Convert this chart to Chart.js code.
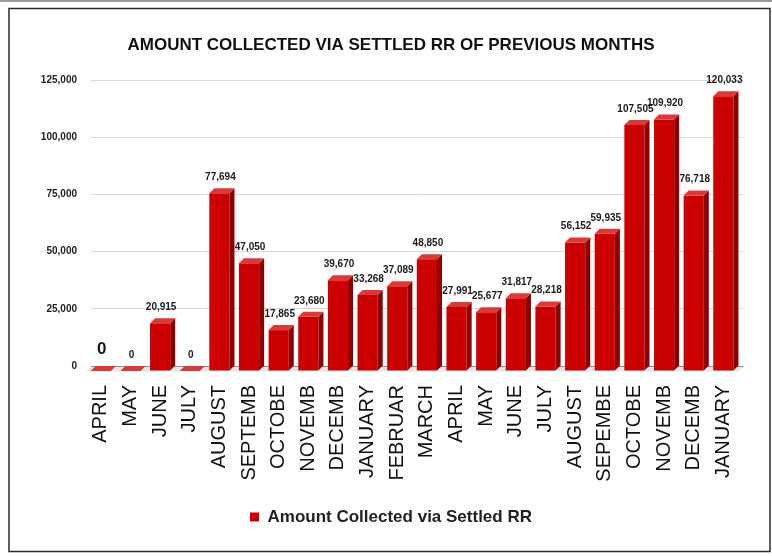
<!DOCTYPE html>
<html><head><meta charset="utf-8">
<script src="https://cdn.jsdelivr.net/npm/chart.js@4.4.1/dist/chart.umd.min.js"></script>
<style>html,body{margin:0;padding:0;background:#fff}#wrap{width:772px;height:556px;position:relative}canvas{display:block}</style>
</head><body><div id="wrap"><canvas id="c" width="772" height="556"></canvas></div>
<script>
const categories = ['APRIL','MAY','JUNE','JULY','AUGUST','SEPTEMB','OCTOBE','NOVEMB','DECEMB','JANUARY','FEBRUAR','MARCH','APRIL','MAY','JUNE','JULY','AUGUST','SEPEMBE','OCTOBE','NOVEMB','DECEMB','JANUARY'];
const amountCollected = [0,0,20915,0,77694,47050,17865,23680,39670,33268,37089,48850,27991,25677,31817,28218,56152,59935,107505,109920,76718,120033];
const yTickValues = [0,25000,50000,75000,100000,125000];
const seriesName = 'Amount Collected via Settled RR';
const chartTitle = 'AMOUNT COLLECTED VIA SETTLED RR OF PREVIOUS MONTHS';

const FONT = "'Liberation Sans', Arial, sans-serif";
Chart.defaults.font.family = FONT;
const DX = 5, DY = 5;

const depthPlugin = {
  id: 'depth3d',
  beforeDraw(chart) {
    const c = chart.ctx;
    c.save();
    c.fillStyle = '#fff'; c.fillRect(0, 0, chart.width, chart.height);
    c.fillStyle = '#9a9a9a'; c.fillRect(0, 0, chart.width, 2);
    c.strokeStyle = '#2b2b2b'; c.lineWidth = 1.5; c.strokeRect(9, 8.5, 761, 543);
    c.restore();
  },
  beforeDatasetsDraw(chart) {
    const c = chart.ctx, a = chart.chartArea, y0 = chart.scales.y.getPixelForValue(0);
    c.save();
    c.fillStyle = '#e6e6e6';
    c.beginPath();
    c.moveTo(a.left, y0 + 0.5); c.lineTo(a.right, y0 + 0.5);
    c.lineTo(a.right - DX, y0 + DY + 0.5); c.lineTo(a.left - DX, y0 + DY + 0.5);
    c.closePath(); c.fill();
    c.restore();
    c.save();
    c.translate(-DX, DY);
  },
  afterDatasetsDraw(chart) {
    const c = chart.ctx;
    c.restore();
    const meta = chart.getDatasetMeta(0);
    c.save();
    meta.data.forEach((el) => {
      const p = el.getProps(['x', 'y', 'base', 'width'], true);
      const l = p.x - p.width / 2 - DX, r = p.x + p.width / 2 - DX, t = p.y + DY, b = p.base + DY;
      c.fillStyle = '#8c0000';
      c.beginPath(); c.moveTo(r, t); c.lineTo(r + DX, t - DY); c.lineTo(r + DX, b - DY); c.lineTo(r, b); c.closePath(); c.fill();
      c.fillStyle = '#d83a3a';
      c.beginPath(); c.moveTo(l, t); c.lineTo(r, t); c.lineTo(r + DX, t - DY); c.lineTo(l + DX, t - DY); c.closePath(); c.fill();
    });
    c.textAlign = 'center'; c.textBaseline = 'middle'; c.fillStyle = '#1a1a1a';
    meta.data.forEach((el, i) => {
      const v = amountCollected[i];
      const big = i === 0;
      c.font = 'bold ' + (big ? 17 : 10) + 'px ' + FONT;
      c.fillText(v.toLocaleString('en-US'), el.x - DX + 1, el.y - 11 - (big ? 6 : 0));
    });
    c.restore();
  }
};

new Chart(document.getElementById('c'), {
  type: 'bar',
  data: {
    labels: categories,
    datasets: [{
      label: seriesName,
      data: amountCollected,
      backgroundColor: '#cc0000',
      borderWidth: 0,
      barPercentage: 0.68,
      categoryPercentage: 1.0,
      clip: false
    }]
  },
  options: {
    responsive: false,
    animation: false,
    layout: { padding: { left: 38, right: 28, top: 0, bottom: 20.5 } },
    plugins: {
      tooltip: { enabled: false },
      title: {
        display: true, text: chartTitle, color: '#111',
        font: { size: 17, weight: 'bold' },
        padding: { top: 35, bottom: 24.6 }
      },
      legend: {
        position: 'bottom',
        labels: { boxWidth: 9, boxHeight: 9, color: '#222', font: { size: 17, weight: 'bold' }, padding: 10 }
      }
    },
    scales: {
      x: {
        grid: { display: false, drawTicks: false },
        border: { display: false },
        ticks: { autoSkip: false, minRotation: 90, maxRotation: 90, padding: 19, labelOffset: -5, color: '#111', font: { size: 20 } },
        afterFit(s) { s.height = 132.5; }
      },
      y: {
        min: 0, max: 125000,
        grid: { drawTicks: false, color: (ctx) => ctx.tick && ctx.tick.value === 0 ? '#333' : '#d9d9d9', lineWidth: 1 },
        border: { display: false },
        afterBuildTicks(s) { s.ticks = yTickValues.map(v => ({ value: v })); },
        ticks: { padding: 14, color: '#222', font: { size: 10, weight: 'bold' }, callback: (v) => Number(v).toLocaleString('en-US') },
        afterFit(s) { s.width = 53; }
      }
    }
  },
  plugins: [depthPlugin]
});
</script>
</body></html>
